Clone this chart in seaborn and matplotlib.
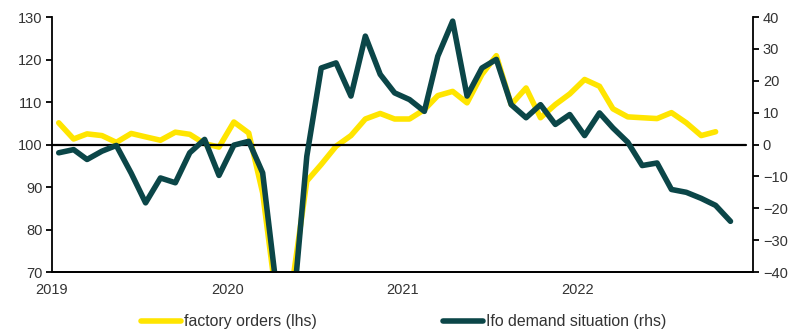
import numpy as np
import pandas as pd
import matplotlib
matplotlib.use("Agg")
import matplotlib.pyplot as plt
import matplotlib.dates as mdates
import seaborn as sns

dates = pd.date_range("2019-01-01", periods=47, freq="MS") + pd.Timedelta(days=14)

factory_orders = [105.1, 101.3, 102.5, 102.1, 100.5, 102.6, 101.8, 101.0, 102.9, 102.4, 100.2, 99.4,
                  105.3, 102.7, 88.6, 61.5, 66.6, 91.4, 95.3, 99.6, 102.1, 106.0, 107.3, 106.0,
                  106.0, 108.2, 111.5, 112.5, 109.8, 116.5, 120.9, 109.4, 113.3, 106.3, 109.4, 111.9,
                  115.3, 113.7, 108.4, 106.5, 106.3, 106.1, 107.5, 105.1, 102.1, 103.0, np.nan]

ifo_demand = [-2.6, -1.6, -4.7, -2.1, -0.3, -9.0, -18.3, -10.5, -12.0, -2.6, 1.6, -9.7,
              -0.2, 1.0, -8.9, -48.0, -56.0, -3.7, 24.0, 25.6, 15.2, 34.0, 22.0, 16.2,
              14.1, 10.4, 27.7, 38.7, 15.2, 24.0, 26.7, 12.5, 8.4, 12.5, 6.3, 9.4,
              2.8, 9.9, 5.2, 0.7, -6.6, -5.8, -14.1, -15.0, -16.9, -19.1, -24.1]

labels = ["factory orders (lhs)", "Ifo demand situation (rhs)"]
year_ticks = ["2019", "2020", "2021", "2022"]

df = pd.DataFrame({"date": dates, "orders": factory_orders, "ifo": ifo_demand})

sns.set_style("white")
plt.rcParams["font.family"] = ["Liberation Sans", "DejaVu Sans"]
plt.rcParams["font.size"] = 10.5

YELLOW = "#FFE500"
TEAL = "#0B4648"
TXT = "#333333"

fig = plt.figure(figsize=(7.93, 3.34), dpi=100)
ax = fig.add_axes([0.0656, 0.1856, 0.884, 0.7635])
ax2 = ax.twinx()

sns.lineplot(data=df, x="date", y="orders", ax=ax, color=YELLOW, lw=2.4, label=labels[0], legend=False)
sns.lineplot(data=df, x="date", y="ifo", ax=ax2, color=TEAL, lw=2.6, label=labels[1], legend=False)

ax.set_ylim(70, 130)
ax2.set_ylim(-40, 40)
ax.set_yticks(range(70, 131, 10))
ax2.set_yticks(range(-40, 41, 10))
ax.set_xlim(pd.Timestamp("2019-01-01"), pd.Timestamp("2023-01-01"))
ax.set_xticks([pd.Timestamp(f"{y}-01-01") for y in year_ticks] + [pd.Timestamp("2023-01-01")])
ax.set_xticklabels(year_ticks + [""])

ax2.axhline(0, color="black", lw=1.6, xmax=0.99, zorder=1)

for a in (ax, ax2):
    a.set_xlabel("")
    a.set_ylabel("")
    a.spines["top"].set_visible(False)
    for s in ("left", "right", "bottom"):
        a.spines[s].set_color("black")
        a.spines[s].set_linewidth(1.3)
    a.tick_params(axis="both", colors="black", labelcolor=TXT, length=4, width=1.3, labelsize=10.5)
ax.spines["right"].set_visible(False)
ax2.spines["left"].set_visible(False)
ax.tick_params(axis="y", pad=3)
ax2.tick_params(axis="y", pad=3)
ax.tick_params(axis="x", pad=4)

h1, l1 = ax.get_legend_handles_labels()
h2, l2 = ax2.get_legend_handles_labels()
for h in h1 + h2:
    h.set_linewidth(4)
fig.legend(h1 + h2, l1 + l2, loc="center", bbox_to_anchor=(0.509, 0.037), ncol=2,
           frameon=False, fontsize=11.4, handlelength=2.5, handletextpad=0.2,
           columnspacing=8.0, labelcolor=TXT)

fig.savefig("out.png", dpi=100)
